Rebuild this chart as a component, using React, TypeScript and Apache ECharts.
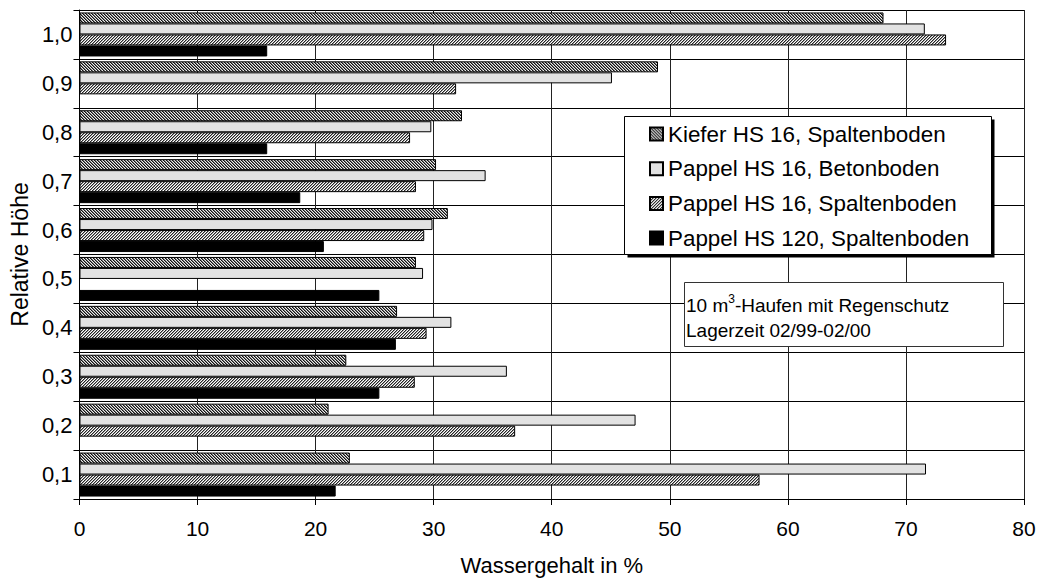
import React, { useEffect, useRef } from "react";
import * as echarts from "echarts";

const categories = ["0,1", "0,2", "0,3", "0,4", "0,5", "0,6", "0,7", "0,8", "0,9", "1,0"];
const seriesNames = [
  "Kiefer HS 16, Spaltenboden",
  "Pappel HS 16, Betonboden",
  "Pappel HS 16, Spaltenboden",
  "Pappel HS 120, Spaltenboden",
];
const kieferSpalten = [22.9, 21.1, 22.6, 26.9, 28.5, 31.2, 30.2, 32.4, 49.0, 68.1];
const pappelBeton = [71.7, 47.1, 36.2, 31.5, 29.1, 29.9, 34.4, 29.8, 45.1, 71.6];
const pappelSpalten = [57.6, 36.9, 28.4, 29.4, null, 29.2, 28.5, 28.0, 31.9, 73.4];
const pappel120 = [21.7, null, 25.4, 26.8, 25.4, 20.7, 18.7, 15.9, null, 15.9];
const xMin = 0;
const xMax = 80;
const xInterval = 10;
const xTitle = "Wassergehalt in %";
const yTitle = "Relative Höhe";
const noteLine1 = ["10 m", "3", "-Haufen mit Regenschutz"];
const noteLine2 = "Lagerzeit 02/99-02/00";

const FONT = "'Liberation Sans', Arial, sans-serif";

function hatch(dir: "back" | "fwd", shades: string[]) {
  const size = shades.length;
  const c = document.createElement("canvas");
  c.width = size;
  c.height = size;
  const ctx = c.getContext("2d")!;
  for (let i = 0; i < size; i++) {
    for (let j = 0; j < size; j++) {
      const d = dir === "back" ? (i - j + size) % size : (i + j) % size;
      ctx.fillStyle = shades[d];
      ctx.fillRect(i, j, 1, 1);
    }
  }
  return { image: c.toDataURL(), repeat: "repeat", imageWidth: size, imageHeight: size } as any;
}

export default function App() {
  const ref = useRef<HTMLDivElement>(null);
  useEffect(() => {
    if (!ref.current) return;
    const chart = echarts.init(ref.current, null, { renderer: "svg" });
    const kieferPattern = hatch("back", ["#111111", "#777777", "#eeeeee"]);
    const spaltenPattern = hatch("fwd", ["#222222", "#9a9a9a", "#ffffff"]);
    const colors = [kieferPattern, "#e2e2e2", spaltenPattern, "#000000"];
    const datas = [kieferSpalten, pappelBeton, pappelSpalten, pappel120];
    const series = seriesNames.map((name, i) => ({
      name,
      type: "bar",
      data: datas[i].map((v) => (v == null ? "-" : v)),
      barGap: "0%",
      barCategoryGap: "10%",
      itemStyle: { color: colors[i], borderColor: "#000", borderWidth: 1 },
      emphasis: { disabled: true },
    }));
    chart.setOption({
      animation: false,
      grid: { left: 77, right: 16, top: 10, bottom: 79, containLabel: false },
      legend: {
        orient: "vertical",
        left: 649,
        top: 123,
        padding: 0,
        itemWidth: 13,
        itemHeight: 13,
        itemGap: 12.7,
        icon: "rect",
        z: 10,
        data: seriesNames,
        textStyle: { fontSize: 22.4, lineHeight: 22, color: "#000", fontFamily: FONT },
      },
      xAxis: {
        type: "value",
        min: xMin,
        max: xMax,
        interval: xInterval,
        name: xTitle,
        nameLocation: "middle",
        nameGap: 55,
        nameTextStyle: { fontSize: 22, color: "#000", fontFamily: FONT },
        axisLine: { show: true, lineStyle: { color: "#000", width: 1 } },
        axisTick: { show: true, length: 6, lineStyle: { color: "#000" } },
        axisLabel: { fontSize: 21, color: "#000", margin: 19, fontFamily: FONT },
        splitLine: { show: true, lineStyle: { color: "#222", width: 1 } },
      },
      yAxis: {
        type: "category",
        data: categories,
        name: yTitle,
        nameLocation: "middle",
        nameGap: 47,
        nameTextStyle: { fontSize: 23, color: "#000", fontFamily: FONT },
        axisLine: { show: true, lineStyle: { color: "#000", width: 1 } },
        axisTick: { show: true, length: 6, lineStyle: { color: "#000" } },
        axisLabel: { fontSize: 22, color: "#000", margin: 7, fontFamily: FONT },
        splitLine: { show: true, lineStyle: { color: "#000", width: 1 } },
      },
      graphic: [
        { type: "rect", z: 5, shape: { x: 627.5, y: 119.5, width: 367, height: 138 }, style: { fill: "#000" } },
        { type: "rect", z: 5, shape: { x: 624.5, y: 116.5, width: 367, height: 138 }, style: { fill: "#fff", stroke: "#000", lineWidth: 1 } },
        { type: "rect", z: 5, shape: { x: 684.5, y: 282.5, width: 319, height: 64 }, style: { fill: "#fff", stroke: "#333", lineWidth: 1 } },
        {
          type: "text",
          z: 6,
          x: 686,
          y: 292.5,
          style: {
            text: `{a|${noteLine1[0]}}{s|${noteLine1[1]}}{a|${noteLine1[2]}}\n{a|${noteLine2}}`,
            verticalAlign: "top",
            align: "left",
            fill: "#000",
            font: `19px ${FONT}`,
            rich: {
              a: { fontSize: 19, lineHeight: 25, fontFamily: FONT, fill: "#000" },
              s: { fontSize: 12, lineHeight: 12, fontFamily: FONT, fill: "#000", verticalAlign: "top" },
            },
          },
        },
      ],
      series,
    });
    return () => chart.dispose();
  }, []);
  return <div ref={ref} style={{ width: 1040, height: 581, position: "absolute", left: 0, top: 0 }} />;
}
